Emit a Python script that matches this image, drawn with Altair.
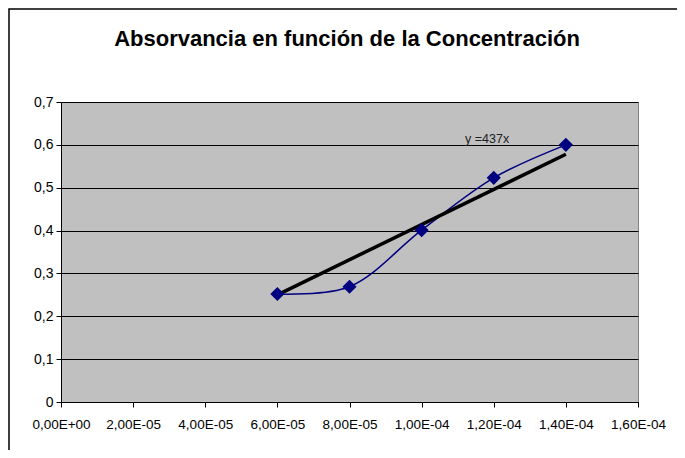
import altair as alt
import pandas as pd

# Data
concentracion = [6e-5, 8e-5, 1e-4, 1.2e-4, 1.4e-4]
absorvancia = [0.252, 0.269, 0.401, 0.523, 0.600]
trend_x = [6e-5, 1.4e-4]
trend_y = [0.250, 0.578]
x_ticks = [0, 2e-5, 4e-5, 6e-5, 8e-5, 1e-4, 1.2e-4, 1.4e-4, 1.6e-4]
x_tick_labels = ["0,00E+00", "2,00E-05", "4,00E-05", "6,00E-05", "8,00E-05",
                 "1,00E-04", "1,20E-04", "1,40E-04", "1,60E-04"]
y_ticks = [0, 0.1, 0.2, 0.3, 0.4, 0.5, 0.6, 0.7]
y_tick_labels = ["0", "0,1", "0,2", "0,3", "0,4", "0,5", "0,6", "0,7"]
title_text = "Absorvancia en función de la Concentración"
trend_label = "y =437x"

FONT = "Liberation Sans"
W, H = 577, 300

df = pd.DataFrame({"x": concentracion, "y": absorvancia})
tdf = pd.DataFrame({"x": trend_x, "y": trend_y})

xlab_arr = "[" + ",".join(f"'{s}'" for s in x_tick_labels) + "]"
ylab_arr = "[" + ",".join(f"'{s}'" for s in y_tick_labels) + "]"

xscale = alt.Scale(domain=[0, 1.6e-4], nice=False, zero=True)
yscale = alt.Scale(domain=[0, 0.7], nice=False)

xaxis = alt.Axis(values=x_ticks, labelExpr=f"{xlab_arr}[round(datum.value/2e-5)]",
                 grid=False, title=None, domainColor="black", tickColor="black",
                 tickSize=5, labelPadding=10, labelFont=FONT, labelFontSize=13.5,
                 labelColor="black", labelFlush=False, labelOverlap=False)
yaxis = alt.Axis(values=y_ticks, labelExpr=f"{ylab_arr}[round(datum.value*10)]",
                 grid=True, gridColor="black", gridWidth=1, title=None,
                 domainColor="black", tickColor="black", tickSize=5, labelPadding=3,
                 labelFont=FONT, labelFontSize=14, labelColor="black",
                 labelFlush=False, labelOverlap=False)

base = alt.Chart(df)

# Outer frame of the chart
frame = alt.Chart(pd.DataFrame({"a": [0]})).mark_rect(
    fill=None, stroke="black", strokeWidth=1.5
).encode(x=alt.value(-52), x2=alt.value(700), y=alt.value(-93), y2=alt.value(400))

title = alt.Chart(pd.DataFrame({"t": [title_text]})).mark_text(
    font=FONT, fontSize=22, fontWeight="bold", color="black",
    align="center", baseline="alphabetic"
).encode(x=alt.value(286), y=alt.value(-56), text="t:N")

smooth = base.mark_line(color="#000080", strokeWidth=1.5, interpolate="catmull-rom").encode(
    x=alt.X("x:Q", scale=xscale, axis=xaxis),
    y=alt.Y("y:Q", scale=yscale, axis=yaxis),
)

trend = alt.Chart(tdf).mark_line(color="black", strokeWidth=3.5).encode(
    x=alt.X("x:Q", scale=xscale), y=alt.Y("y:Q", scale=yscale)
)

points = base.mark_point(shape="diamond", filled=True, color="#000080",
                         size=200, opacity=1).encode(
    x=alt.X("x:Q", scale=xscale), y=alt.Y("y:Q", scale=yscale)
)

label = alt.Chart(pd.DataFrame({"t": [trend_label]})).mark_text(
    font=FONT, fontSize=12.5, color="#202020", align="left", baseline="alphabetic"
).encode(x=alt.value(404), y=alt.value(41), text="t:N")

chart = alt.layer(frame, title, smooth, trend, points, label).properties(
    width=W, height=H,
    background="white",
    autosize=alt.AutoSizeParams(type="none"),
    padding={"left": 53, "top": 94, "right": 39, "bottom": 48},
).configure_view(
    fill="#C0C0C0", stroke="#808080", strokeWidth=1
)

chart.save("out.html", embed_options={"renderer": "svg", "actions": False})
